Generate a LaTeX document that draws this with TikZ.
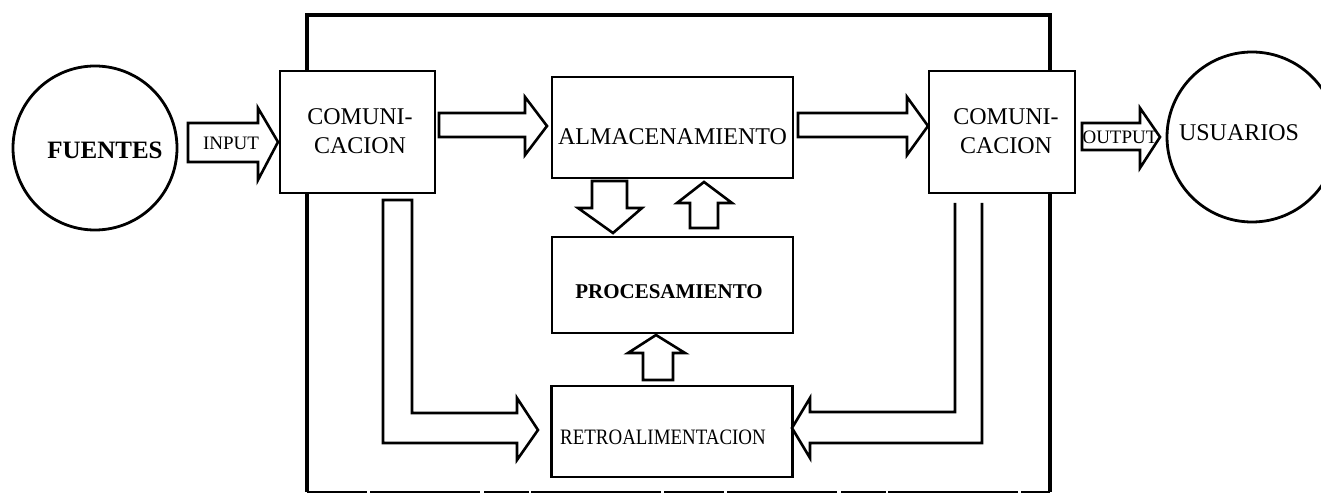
\documentclass[tikz,border=0pt]{standalone}
\usepackage{graphicx}
\usepackage{fontspec}
\setmainfont{Liberation Serif}
\begin{document}
\begin{tikzpicture}[x=1pt,y=-1pt,
  frameline/.style={line width=3.6pt},
  box/.style={draw, line width=2.8pt, fill=white, inner sep=0pt},
  ring/.style={draw, circle, line width=2.8pt, inner sep=0pt, fill=white},
  fat/.style={draw, line width=2.6pt, fill=white, line join=miter, miter limit=6},
  lbl/.style={font=\fontsize{24}{29}\selectfont, align=center, inner sep=0pt},
  lblb/.style={font=\bfseries\fontsize{21}{25}\selectfont, inner sep=0pt},
  lbls/.style={font=\fontsize{19}{22}\selectfont, inner sep=0pt}]
\clip (0,0) rectangle (1321,494);

% outer frame of the system
\draw[frameline] (307,492) -- (307,15) -- (1050,15) -- (1050,492);
\draw[line width=2.6pt, dash pattern=on 60pt off 3pt on 110pt off 4pt on 45pt off 2pt on 130pt off 3pt]
  (307,492) -- (1050,492);

% sources and users
\node[ring, minimum size=164pt] (src) at (95,148) {};
\node[font=\bfseries\fontsize{25}{30}\selectfont, inner sep=0pt] (src-t) at (105,150) {FUENTES};
\node[ring, minimum size=170pt] (usr) at (1252,137) {};
\node[lbl] (usr-t) at (1239,133) {USUARIOS};

% blocks
\node[box, minimum width=155pt, minimum height=122pt] (c1) at (357.5,132) {};
\node[lbl] (c1-t) at (360,131) {COMUNI-\\CACION};
\node[box, minimum width=146pt, minimum height=122pt] (c2) at (1002,132) {};
\node[lbl] (c2-t) at (1006,131) {COMUNI-\\CACION};
\node[box, minimum width=241pt, minimum height=101pt] (alm) at (672.5,127.5) {};
\node[lbl] (alm-t) at (672.5,137) {ALMACENAMIENTO};
\node[box, minimum width=241pt, minimum height=96pt] (proc) at (672.5,285) {};
\node[lblb] (proc-t) at (669,292) {PROCESAMIENTO};
\node[box, minimum width=241pt, minimum height=91pt] (ret) at (672,431.5) {};
\node[font=\fontsize{22}{26}\selectfont, inner sep=0pt] (ret-t) at (663,437)
  {\scalebox{0.86}[1]{RETROALIMENTACION}};

% input / output arrows
\draw[fat] (188,123) -- (258,123) -- (258,108) -- (278,142) -- (258,180) -- (258,162) -- (188,162) -- cycle;
\node[lbls] (in-t) at (231,143) {INPUT};
\draw[fat] (1082,123) -- (1140,123) -- (1140,108) -- (1160,137) -- (1140,168) -- (1140,150) -- (1082,150) -- cycle;
\node[lbls] (out-t) at (1120,137) {OUTPUT};

% flows between the blocks
\draw[fat] (439,113) -- (525,113) -- (525,97) -- (547,126) -- (525,155) -- (525,137) -- (439,137) -- cycle;
\draw[fat] (798,113) -- (907,113) -- (907,97) -- (928,126) -- (907,155) -- (907,137) -- (798,137) -- cycle;
\draw[fat] (592,181) -- (627,181) -- (627,208) -- (642,208) -- (613,233) -- (578,208) -- (592,208) -- cycle;
\draw[fat] (690,228) -- (690,203) -- (677,203) -- (704,182) -- (732,203) -- (718,203) -- (718,228) -- cycle;
\draw[fat] (643,380) -- (643,353) -- (628,353) -- (656,335) -- (685,353) -- (673,353) -- (673,380) -- cycle;

% feedback paths
\draw[fat] (383,200) -- (383,443) -- (517,443) -- (517,460) -- (538,430) -- (517,398) -- (517,413)
  -- (412,413) -- (412,200) -- cycle;
\draw[fat] (982,203) -- (982,443) -- (810,443) -- (810,458) -- (792,428) -- (810,398) -- (810,412)
  -- (955,412) -- (955,203);
\end{tikzpicture}
\end{document}
